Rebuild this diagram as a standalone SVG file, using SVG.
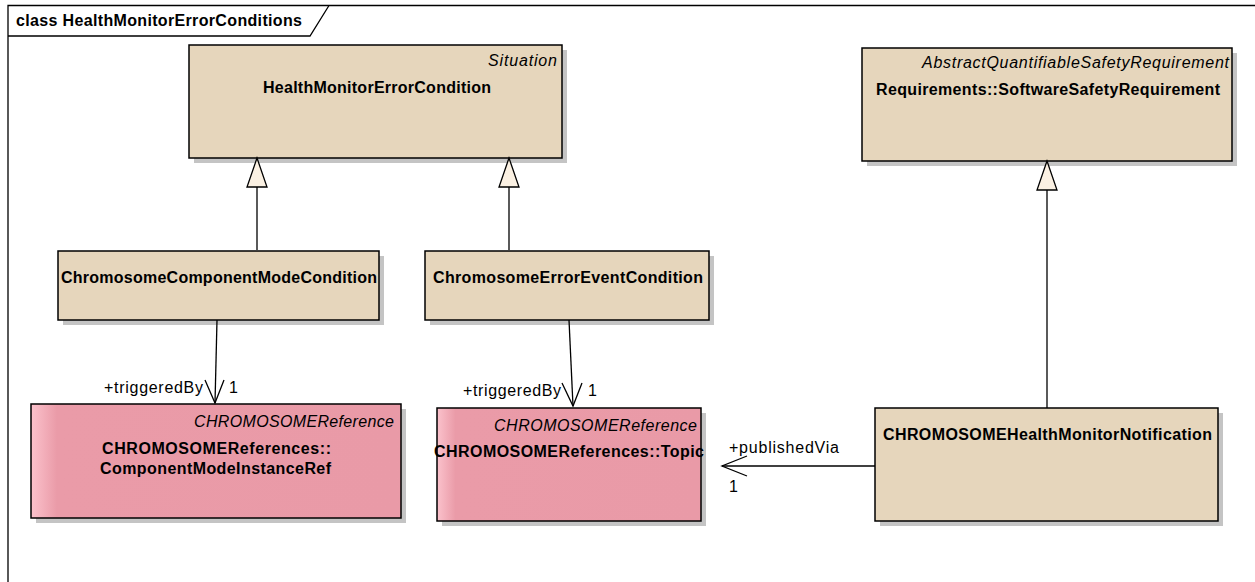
<svg xmlns="http://www.w3.org/2000/svg" width="1255" height="582" viewBox="0 0 1255 582">
<defs>
<style>
text{font-family:"Liberation Sans",Arial,sans-serif;font-size:16px;fill:#000}
.b{font-weight:bold}
.i{font-style:italic}
.box{stroke:#000;stroke-width:1.5}
.beige{fill:#E6D6BC}
.pink{fill:url(#pinkGrad)}
.shadow{fill:#C4C4C4}
.ln{fill:none;stroke:#000;stroke-width:1.3}
.tri{fill:#FBF1E3;stroke:#000;stroke-width:1.3}
</style>
<linearGradient id="pinkGrad" x1="0" y1="0" x2="1" y2="0">
<stop offset="0" stop-color="#FBC2CC"/>
<stop offset="0.07" stop-color="#EA9BA8"/>
<stop offset="1" stop-color="#E99AA7"/>
</linearGradient>
</defs>
<rect x="0" y="0" width="1255" height="582" fill="#fff"/>
<g id="frame">
<path d="M8,582 V5.5 H1255" class="ln"/>
<path d="M8,36 H310 L329,5.5" class="ln"/>
<text x="16" y="26" class="b" textLength="286" lengthAdjust="spacing">class HealthMonitorErrorConditions</text>
</g>
<g id="HealthMonitorErrorCondition">
<rect x="194" y="50" width="373" height="113" class="shadow"/>
<rect x="189" y="45" width="373" height="113" class="box beige"/>
<text x="488" y="66" class="i" textLength="69" lengthAdjust="spacing">Situation</text>
<text x="263" y="93" class="b" textLength="228" lengthAdjust="spacing">HealthMonitorErrorCondition</text>
</g>
<g id="SoftwareSafetyRequirement">
<rect x="867" y="53" width="370" height="113" class="shadow"/>
<rect x="862" y="48" width="370" height="113" class="box beige"/>
<text x="922" y="68" class="i" textLength="307" lengthAdjust="spacing">AbstractQuantifiableSafetyRequirement</text>
<text x="876" y="95" class="b" textLength="344" lengthAdjust="spacing">Requirements::SoftwareSafetyRequirement</text>
</g>
<g id="ChromosomeComponentModeCondition">
<rect x="63" y="256" width="321" height="69" class="shadow"/>
<rect x="58" y="251" width="321" height="69" class="box beige"/>
<text x="61" y="283" class="b" textLength="316" lengthAdjust="spacing">ChromosomeComponentModeCondition</text>
</g>
<g id="ChromosomeErrorEventCondition">
<rect x="430" y="256" width="284" height="69" class="shadow"/>
<rect x="425" y="251" width="284" height="69" class="box beige"/>
<text x="433" y="283" class="b" textLength="270" lengthAdjust="spacing">ChromosomeErrorEventCondition</text>
</g>
<g id="ComponentModeInstanceRef">
<rect x="36" y="409" width="370" height="114" class="shadow"/>
<rect x="31" y="404" width="370" height="114" class="box pink"/>
<text x="194" y="427" class="i" textLength="200" lengthAdjust="spacing">CHROMOSOMEReference</text>
<text x="102" y="454" class="b" textLength="229" lengthAdjust="spacing">CHROMOSOMEReferences::</text>
<text x="100" y="474" class="b" textLength="231" lengthAdjust="spacing">ComponentModeInstanceRef</text>
</g>
<g id="Topic">
<rect x="442" y="413" width="264" height="113" class="shadow"/>
<rect x="437" y="408" width="264" height="113" class="box pink"/>
<text x="494" y="431" class="i" textLength="203" lengthAdjust="spacing">CHROMOSOMEReference</text>
<text x="434" y="457" class="b" textLength="270" lengthAdjust="spacing">CHROMOSOMEReferences::Topic</text>
</g>
<g id="CHROMOSOMEHealthMonitorNotification">
<rect x="880" y="413" width="343" height="113" class="shadow"/>
<rect x="875" y="408" width="343" height="113" class="box beige"/>
<text x="883" y="440" class="b" textLength="329" lengthAdjust="spacing">CHROMOSOMEHealthMonitorNotification</text>
</g>
<g id="connectors">
<path d="M257,250 V187" class="ln"/>
<path d="M257,158 L247,187 H267 Z" class="tri"/>
<path d="M509,250 V187" class="ln"/>
<path d="M509,158 L499,187 H519 Z" class="tri"/>
<path d="M1047,408 V190" class="ln"/>
<path d="M1047,161 L1037,190 H1057 Z" class="tri"/>
<path d="M217,320 L215,403" class="ln"/>
<path d="M205,380 L215,403 L224,380" class="ln"/>
<text x="104" y="393" textLength="99" lengthAdjust="spacing">+triggeredBy</text>
<text x="229" y="393">1</text>
<path d="M569,320 L573,406" class="ln"/>
<path d="M562,383 L573,406 L582,383" class="ln"/>
<text x="463" y="396" textLength="98" lengthAdjust="spacing">+triggeredBy</text>
<text x="588" y="396">1</text>
<path d="M875,466 H722" class="ln"/>
<path d="M747,456 L722,466 L747,476" class="ln"/>
<text x="729" y="453" textLength="110" lengthAdjust="spacing">+publishedVia</text>
<text x="729" y="492">1</text>
</g>
</svg>
